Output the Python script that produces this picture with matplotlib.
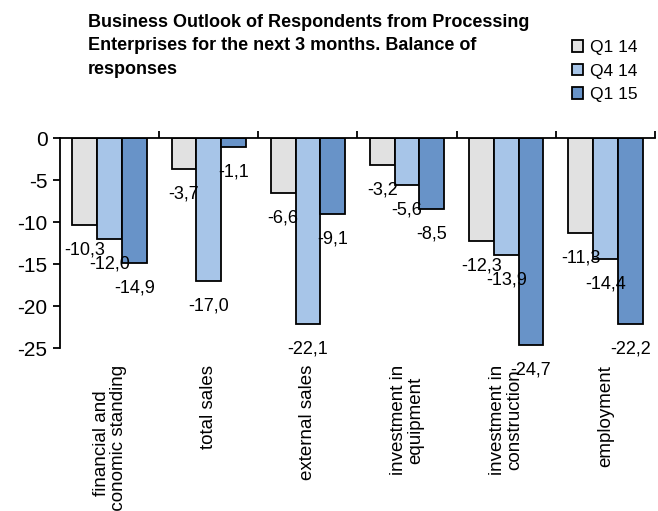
import matplotlib.pyplot as plt
import numpy as np

# Data
categories = ['financial and\neconomic standing', 'total sales', 'external sales',
              'investment in\nequipment', 'investment in\nconstruction', 'employment']
series_names = ['Q1 14', 'Q4 14', 'Q1 15']
q1_14 = [-10.3, -3.7, -6.6, -3.2, -12.3, -11.3]
q4_14 = [-12.0, -17.0, -22.1, -5.6, -13.9, -14.4]
q1_15 = [-14.9, -1.1, -9.1, -8.5, -24.7, -22.2]
colors = ['#e1e1e1', '#a7c5e8', '#6893c8']

plt.rcParams['font.family'] = ['Liberation Sans', 'DejaVu Sans']
plt.rcParams['axes.unicode_minus'] = False

fig = plt.figure(figsize=(6.58, 5.11), dpi=100)
ax = fig.add_axes([60 / 658, 1 - 348 / 511, 595 / 658, 210 / 511])

x = np.arange(len(categories))
width = 0.25
for i, (vals, name, col) in enumerate(zip([q1_14, q4_14, q1_15], series_names, colors)):
    pos = x + (i - 1) * width
    ax.bar(pos, vals, width, color=col, edgecolor='black', linewidth=1.3, label=name)
    for p, v in zip(pos, vals):
        ax.annotate(f'{v:.1f}'.replace('.', ','), (p, v), xytext=(0, -25),
                    textcoords='offset pixels', ha='center', va='center', fontsize=13)

ax.set_xlim(-0.5, len(categories) - 0.5)
ax.set_ylim(-25, 0)
ax.set_yticks(range(-25, 1, 5))
ax.tick_params(axis='y', labelsize=15, length=5, width=1.3, direction='out', pad=4)

# category boundaries as ticks on the zero line
ax.xaxis.tick_top()
ax.set_xticks(np.arange(len(categories)) + 0.5)
ax.set_xticklabels([])
ax.tick_params(axis='x', length=5, width=1.3, direction='out')

for s in ['right', 'bottom']:
    ax.spines[s].set_visible(False)
ax.spines['left'].set_linewidth(1.3)
ax.spines['top'].set_linewidth(1.3)

for xi, c in zip(x, categories):
    ax.text(xi, -27, c, rotation=90, ha='center', va='top', fontsize=13.5,
            multialignment='center', clip_on=False, linespacing=1.0)

fig.text(88 / 658, 1 - 14 / 511,
         'Business Outlook of Respondents from Processing\n'
         'Enterprises for the next 3 months. Balance of\nresponses',
         fontsize=13, fontweight='bold', ha='left', va='top', linespacing=1.5)

fig.legend(loc='upper left', bbox_to_anchor=(565 / 658, 1 - 33 / 511), frameon=False,
           fontsize=12.5, handlelength=0.65, handleheight=0.65, handletextpad=0.4,
           labelspacing=0.5, borderaxespad=0)

fig.savefig('out.png', dpi=100)
